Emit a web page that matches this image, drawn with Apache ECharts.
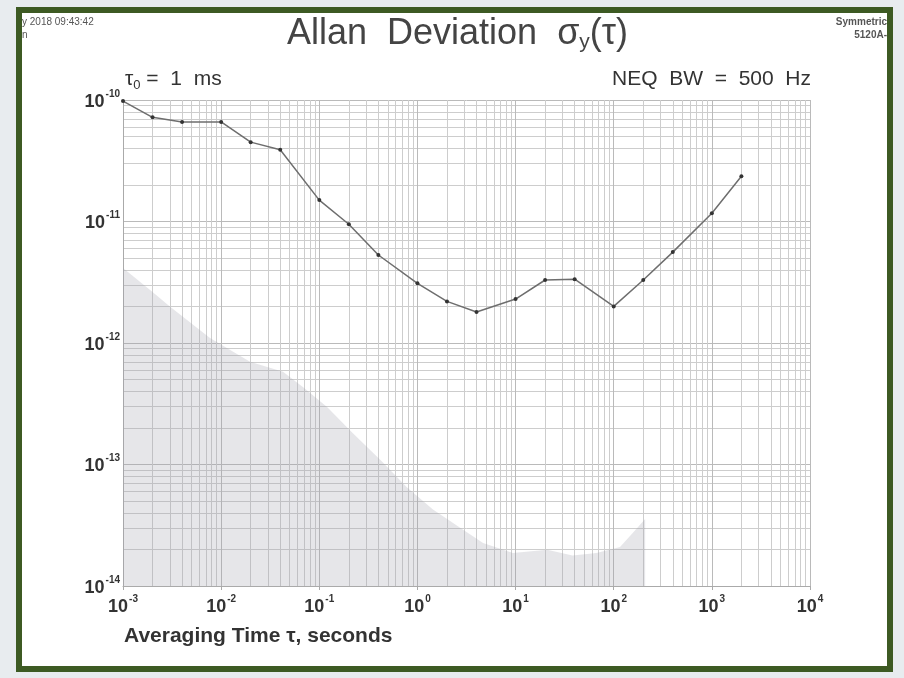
<!DOCTYPE html>
<html>
<head>
<meta charset="utf-8">
<script src="https://cdn.jsdelivr.net/npm/echarts@6/dist/echarts.min.js"></script>
<style>html,body{margin:0;padding:0;background:#e8ecef;}#c{width:904px;height:678px;}</style>
</head>
<body>
<div id="c"></div>
<script>
// Averaging time tau (s) and measured Allan deviation
const tau = [0.001,0.002,0.004,0.01,0.02,0.04,0.1,0.2,0.4,1,2,4,10,20,40,100,200,400,1000,2000];
const adev = [9.8e-11,7.2e-11,6.6e-11,6.6e-11,4.5e-11,3.9e-11,1.5e-11,9.5e-12,5.3e-12,3.1e-12,2.2e-12,1.8e-12,2.3e-12,3.3e-12,3.35e-12,2.0e-12,3.3e-12,5.6e-12,1.17e-11,2.36e-11];
// Noise floor (shaded region)
const noiseTau = [0.001,0.002,0.003,0.0077,0.0197,0.0427,0.068,0.12,0.22,0.42,0.78,1.44,2.7,4.66,9.4,21,38,67,116,157,209];
const noiseVal = [4.14e-12,2.63e-12,2.0e-12,1.1e-12,7.0e-13,5.8e-13,4.35e-13,2.97e-13,1.81e-13,1.09e-13,6.5e-14,4.26e-14,3.03e-14,2.26e-14,1.87e-14,1.99e-14,1.78e-14,1.87e-14,2.09e-14,2.74e-14,3.56e-14];
// Axis ranges
const xRange = [1e-3, 1e4];
const yRange = [1e-14, 1e-10];

const chart = echarts.init(document.getElementById('c'), null, {renderer: 'canvas'});
const FONT = "'Liberation Sans', Arial, sans-serif";
function powLabel(v) {
  const e = Math.round(Math.log10(v));
  return '{b|10}{s|' + e + '}';
}
const richLbl = {
  b: {fontSize: 18, fontFamily: FONT, fontWeight: 'bold', color: '#333', lineHeight: 22, verticalAlign: 'bottom'},
  s: {fontSize: 10, fontFamily: FONT, fontWeight: 'bold', color: '#333', lineHeight: 22, verticalAlign: 'top', padding: [0,0,0,1]}
};
const gridLine = {lineStyle: {color: '#bababa', width: 1}};
const minorLine = {lineStyle: {color: '#cdcdcd', width: 1}};

chart.setOption({
  backgroundColor: '#e8ecef',
  animation: false,
  graphic: [
    {type: 'rect', z: -100, shape: {x: 19, y: 10, width: 871, height: 659}, style: {fill: '#ffffff', stroke: '#3d5a23', lineWidth: 6}},
    {type: 'text', left: 287, top: 16, style: {rich: {
        a: {fontSize: 36, fontFamily: FONT, fill: '#444'},
        g: {fontSize: 36, fontFamily: FONT, fill: '#444'},
        y: {fontSize: 21, fontFamily: FONT, fill: '#444', padding: [16,0,0,0]}
      }, text: '{a|Allan  Deviation  }{g|\u03c3}{y|y}{g|(\u03c4)}'}},
    {type: 'text', left: 125, top: 69, style: {rich: {
        a: {fontSize: 21, fontFamily: FONT, fill: '#333'},
        s: {fontSize: 13, fontFamily: FONT, fill: '#333', padding: [11,0,0,0]}
      }, text: '{a|\u03c4}{s|0}{a| =  1  ms}'}},
    {type: 'text', right: 93, top: 69, style: {text: 'NEQ  BW  =  500  Hz', fontSize: 21, fontFamily: FONT, fill: '#333'}},
    {type: 'text', left: 124, top: 626, style: {text: 'Averaging Time \u03c4, seconds', fontSize: 21, fontFamily: FONT, fontWeight: 'bold', fill: '#333'}},
    {type: 'text', left: 22, top: 17, style: {text: 'y 2018 09:43:42', fontSize: 10, fontFamily: FONT, fill: '#555'}},
    {type: 'text', left: 22, top: 30, style: {text: 'n', fontSize: 10, fontFamily: FONT, fill: '#555'}},
    {type: 'text', right: 17, top: 17, style: {text: 'Symmetric', fontSize: 10, fontFamily: FONT, fontWeight: 'bold', fill: '#555'}},
    {type: 'text', right: 17, top: 30, style: {text: '5120A-', fontSize: 10, fontFamily: FONT, fontWeight: 'bold', fill: '#555'}}
  ],
  grid: {left: 123, right: 94, top: 100, bottom: 92, containLabel: false},
  xAxis: {
    type: 'log', logBase: 10, min: xRange[0], max: xRange[1], interval: 1,
    axisLine: {show: true, lineStyle: {color: '#aaa'}},
    axisTick: {show: true, length: 4, lineStyle: {color: '#aaa'}},
    axisLabel: {formatter: powLabel, rich: richLbl, margin: 8},
    splitLine: Object.assign({show: true}, gridLine),
    minorTick: {show: false, splitNumber: 9},
    minorSplitLine: Object.assign({show: true}, minorLine)
  },
  yAxis: {
    type: 'log', logBase: 10, min: yRange[0], max: yRange[1], interval: 1,
    axisLine: {show: true, lineStyle: {color: '#aaa'}},
    axisTick: {show: false},
    axisLabel: {formatter: powLabel, rich: richLbl, margin: 3},
    splitLine: Object.assign({show: true}, gridLine),
    minorTick: {show: false, splitNumber: 9},
    minorSplitLine: Object.assign({show: true}, minorLine)
  },
  series: [
    {
      type: 'line', name: 'floor', z: 1,
      data: noiseTau.map((t, i) => [t, noiseVal[i]]),
      showSymbol: false, symbol: 'none',
      lineStyle: {width: 0},
      areaStyle: {color: 'rgba(160,160,172,0.38)', origin: 'start'}
    },
    {
      type: 'line', name: 'adev', z: 3,
      data: tau.map((t, i) => [t, adev[i]]),
      symbol: 'circle', symbolSize: 4,
      itemStyle: {color: '#333'},
      lineStyle: {color: '#6e6e6e', width: 1.5}
    }
  ]
});
</script>
</body>
</html>
